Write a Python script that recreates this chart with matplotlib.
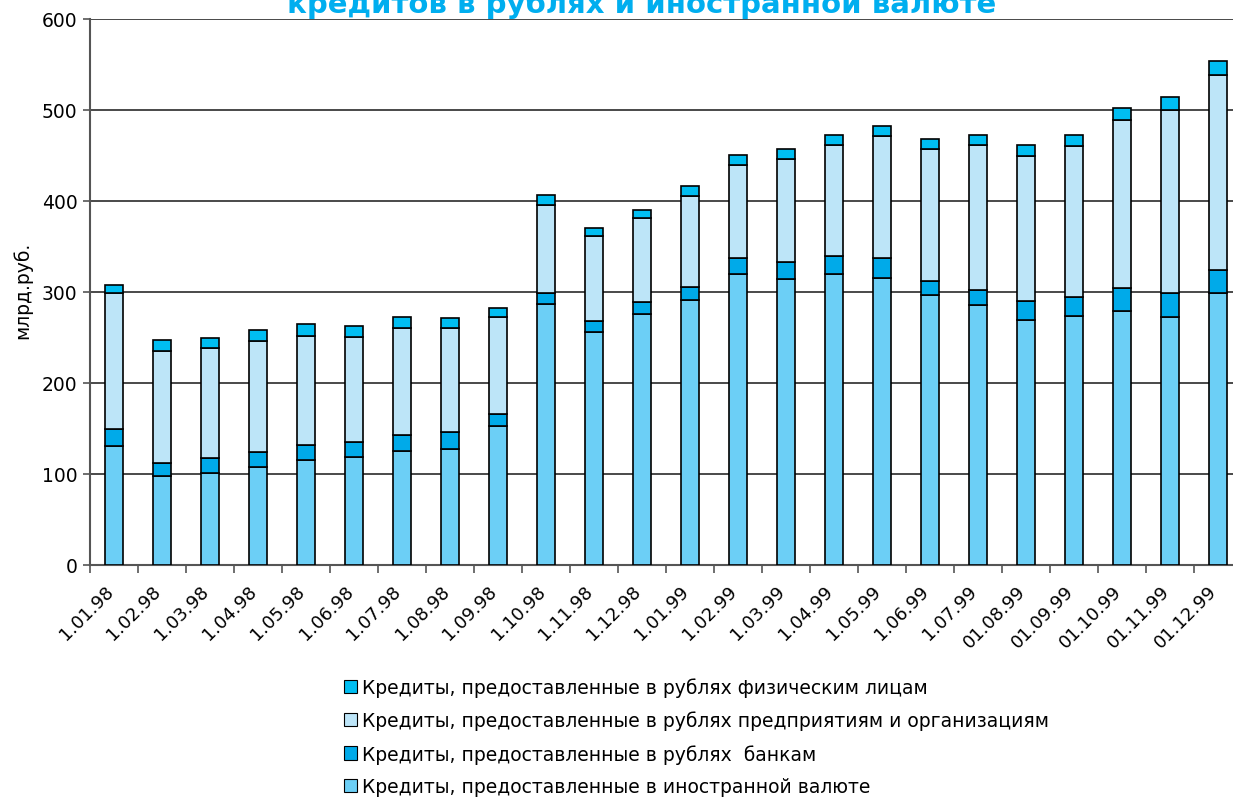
import matplotlib
matplotlib.use("Agg")
import matplotlib.pyplot as plt
import matplotlib.transforms as mtransforms
from matplotlib.patches import Patch
import numpy as np

plt.rcParams['font.family'] = ['DejaVu Sans']

categories = ["1.01.98", "1.02.98", "1.03.98", "1.04.98", "1.05.98", "1.06.98",
              "1.07.98", "1.08.98", "1.09.98", "1.10.98", "1.11.98", "1.12.98",
              "1.01.99", "1.02.99", "1.03.99", "1.04.99", "1.05.99", "1.06.99",
              "1.07.99", "01.08.99", "01.09.99", "01.10.99", "01.11.99", "01.12.99"]

foreign = [131, 98, 101.5, 108, 115.5, 119, 125, 127.5, 152.5, 287, 255.5, 275.5,
           291.5, 320, 314.5, 320, 315, 296.5, 285.5, 269, 274, 279.5, 273, 299]
banks = [18.5, 14, 16.5, 16.5, 16.5, 16, 18, 18.5, 13, 11.5, 13, 13.5,
         14, 17, 19, 20, 22, 16, 17, 21, 21, 25, 26, 25.5]
enterprises = [149.5, 123, 120, 122, 120, 116, 117, 114, 106.5, 97.5, 92.5, 92,
               100.5, 103, 112.5, 121.5, 134, 145, 159, 160, 165, 184, 201, 213.5]
individuals = [9, 12, 12, 12, 13, 12, 12, 11, 10.5, 11, 9.5, 9.5,
               10, 11, 11, 11, 11, 10.5, 11, 11, 12.5, 14, 14.5, 15.5]

labels = ["Кредиты, предоставленные в рублях физическим лицам",
          "Кредиты, предоставленные в рублях предприятиям и организациям",
          "Кредиты, предоставленные в рублях  банкам",
          "Кредиты, предоставленные в иностранной валюте"]
title = "кредитов в рублях и иностранной валюте"
ylabel = "млрд.руб."

c_foreign = "#6ccff6"
c_banks = "#00aae9"
c_ent = "#bde5f8"
c_ind = "#00bef2"

fig = plt.figure(figsize=(12.33, 8.03), dpi=100)
ax = fig.add_axes([90/1233, 237/803, 1152/1233, 546/803])

x = np.arange(len(categories))
w = 0.38
f = np.array(foreign); b = np.array(banks); e = np.array(enterprises); i = np.array(individuals)
kw = dict(width=w, edgecolor="black", linewidth=1.2, zorder=3)
ax.bar(x, f, color=c_foreign, **kw)
ax.bar(x, b, bottom=f, color=c_banks, **kw)
ax.bar(x, e, bottom=f + b, color=c_ent, **kw)
ax.bar(x, i, bottom=f + b + e, color=c_ind, **kw)

ax.set_xlim(-0.5, len(categories) - 0.5)
ax.set_ylim(0, 600)
ax.set_yticks(np.arange(0, 601, 100))
ax.yaxis.grid(True, color="#2a2a2a", linewidth=1.2, zorder=0)
ax.set_axisbelow(True)
for s in ["top", "right"]:
    ax.spines[s].set_visible(False)
for s in ["left", "bottom"]:
    ax.spines[s].set_color("#555555")
    ax.spines[s].set_linewidth(1.5)

ax.set_xticks(x)
ax.set_xticklabels(categories, rotation=45, ha="right", rotation_mode="anchor", fontsize=13)
ax.tick_params(axis="x", length=0, pad=12)
offset = mtransforms.ScaledTranslation(-10/100, 0, fig.dpi_scale_trans)
for lab in ax.get_xticklabels():
    lab.set_transform(lab.get_transform() + offset)
ax.set_xticks(np.arange(-0.5, len(categories), 1), minor=True)
ax.tick_params(axis="x", which="minor", length=6, color="#555555", width=1.2)
ax.tick_params(axis="y", length=5, color="#555555", width=1.2, labelsize=13.5, pad=4)

fig.text(22/1233, 1 - 290/803, ylabel, rotation=90, ha="center", va="center", fontsize=13.5)
fig.text(642/1233, 1 - 13/803, title, ha="center", va="baseline", fontsize=21,
         fontweight="bold", color="#00aeef")

handles = [Patch(facecolor=c, edgecolor="black", linewidth=0.8) for c in [c_ind, c_ent, c_banks, c_foreign]]
fig.legend(handles, labels, loc="upper left", bbox_to_anchor=(336/1233, 1 - 671/803),
           frameon=False, fontsize=13.5, handlelength=0.7, handleheight=0.7,
           handletextpad=0.3, labelspacing=0.72, borderaxespad=0)

fig.savefig("out.png", dpi=100)
